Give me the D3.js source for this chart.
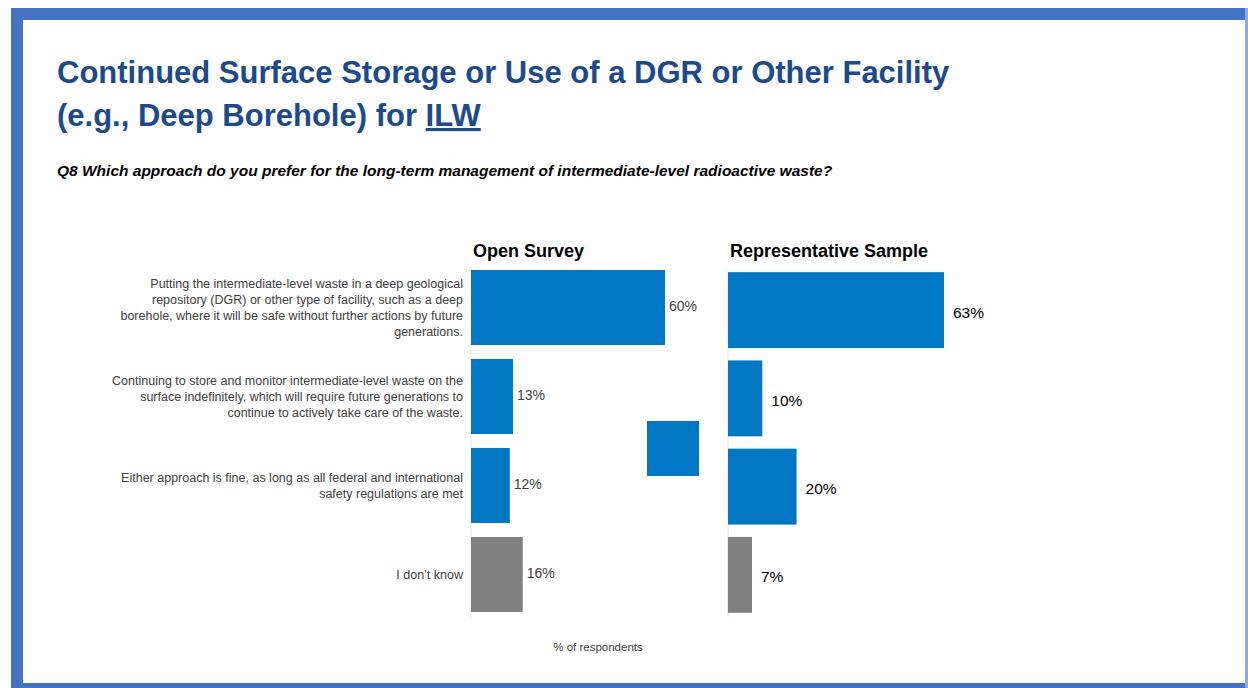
<!DOCTYPE html>
<html>
<head>
<meta charset="utf-8">
<script src="https://cdn.jsdelivr.net/npm/d3@7"></script>
<style>
  html, body { margin: 0; padding: 0; background: #fff; }
  svg { display: block; font-family: "Liberation Sans", Arial, sans-serif; }
</style>
</head>
<body>
<svg id="chart" width="1248" height="688"></svg>
<script>
// chart data
var categories = ["DGR", "Surface", "Either", "Don't know"];
var categoryLines = [
  ["Putting the intermediate-level waste in a deep geological",
   "repository (DGR) or other type of facility, such as a deep",
   "borehole, where it will be safe without further actions by future",
   "generations."],
  ["Continuing to store and monitor intermediate-level waste on the",
   "surface indefinitely, which will require future generations to",
   "continue to actively take care of the waste."],
  ["Either approach is fine, as long as all federal and international",
   "safety regulations are met"],
  ["I don\u2019t know"]
];
var openValues = [60, 13, 12, 16];
var repValues = [63, 10, 20, 7];
var panelTitles = ["Open Survey", "Representative Sample"];
var titleLines = ["Continued Surface Storage or Use of a DGR or Other Facility", "(e.g., Deep Borehole) for "];
var titleUnderlined = "ILW";
var question = "Q8 Which approach do you prefer for the long-term management of intermediate-level radioactive waste?";
var axisNote = "% of respondents";

var svg = d3.select("#chart");
var W = 1248, H = 688;

// frame
svg.append("rect").attr("x", 0).attr("y", 0).attr("width", W).attr("height", H).attr("fill", "#fff");
svg.append("rect").attr("x", 11).attr("y", 8).attr("width", W - 11).attr("height", 12).attr("fill", "#4472c4");
svg.append("rect").attr("x", 11).attr("y", 8).attr("width", 12).attr("height", H - 8).attr("fill", "#4472c4");
svg.append("rect").attr("x", 11).attr("y", 683).attr("width", W - 11).attr("height", 5).attr("fill", "#4472c4");
svg.append("rect").attr("x", 1245).attr("y", 8).attr("width", 3).attr("height", H - 8).attr("fill", "#8faadc");

// title
var title = svg.append("g").attr("fill", "#1d4a8c").style("font-weight", "bold").style("font-size", "31px");
title.append("text").attr("x", 57).attr("y", 83).text(titleLines[0]);
var t2 = title.append("text").attr("x", 57).attr("y", 126);
t2.append("tspan").text(titleLines[1]);
t2.append("tspan").attr("text-decoration", "underline").text(titleUnderlined);

svg.append("text")
  .attr("x", 57).attr("y", 176)
  .style("font-weight", "bold").style("font-style", "italic").style("font-size", "15.5px")
  .attr("fill", "#000")
  .text(question);

var color = d3.scaleOrdinal().domain(categories).range(["#0277c3", "#0277c3", "#0277c3", "#808080"]);

var xOpen = d3.scaleLinear().domain([0, 60]).range([471, 665]);
var xRep = d3.scaleLinear().domain([0, 63]).range([728, 944]);
var yOpen = d3.scaleBand().domain(categories).range([263, 619]).paddingInner(0.157).paddingOuter(0.0785);
var yRep = d3.scaleBand().domain(categories).range([266, 619]).paddingInner(0.14).paddingOuter(0.07);

// category labels
var labels = svg.append("g").attr("fill", "#404040").attr("text-anchor", "end").style("font-size", "12.5px");
labels.selectAll("text")
  .data(categories)
  .join("text")
  .attr("x", 463)
  .attr("y", function (d, i) {
    var n = categoryLines[i].length;
    return yOpen(d) + yOpen.bandwidth() / 2 + 4 - (n - 1) * 16 / 2;
  })
  .attr("dy", "0.35em")
  .each(function (d, i) {
    var sel = d3.select(this);
    categoryLines[i].forEach(function (line, j) {
      sel.append("tspan").attr("x", 463).attr("dy", j === 0 ? 0 : 16).text(line);
    });
  });

function panel(values, x, y, titleText, labelColor, labelSize, labelGap, labelShift) {
  var g = svg.append("g");
  g.append("line")
    .attr("x1", x(0)).attr("x2", x(0))
    .attr("y1", y.range()[0] + 4).attr("y2", y.range()[1] - 2)
    .attr("stroke", "#e6e6e6").attr("stroke-width", 1);
  g.append("text")
    .attr("x", x(0) + 2).attr("y", 257)
    .style("font-weight", "bold").style("font-size", "18px")
    .attr("fill", "#000")
    .text(titleText);
  g.append("g").selectAll("rect")
    .data(categories)
    .join("rect")
    .attr("x", x(0))
    .attr("y", function (d) { return y(d); })
    .attr("width", function (d, i) { return x(values[i]) - x(0); })
    .attr("height", y.bandwidth())
    .attr("fill", function (d) { return color(d); });
  g.append("g").attr("fill", labelColor).style("font-size", labelSize)
    .selectAll("text")
    .data(categories)
    .join("text")
    .attr("x", function (d, i) { return x(values[i]) + labelGap; })
    .attr("y", function (d) { return y(d) + y.bandwidth() / 2 + labelShift; })
    .attr("dy", "0.35em")
    .text(function (d, i) { return values[i] + "%"; });
}

panel(openValues, xOpen, yOpen, panelTitles[0], "#404040", "14px", 4, -1);
panel(repValues, xRep, yRep, panelTitles[1], "#000", "15.5px", 9, 2);

// stray blue swatch from the slide
svg.append("rect").attr("x", 647).attr("y", 421).attr("width", 52).attr("height", 55).attr("fill", "#0277c3");

svg.append("text")
  .attr("x", 598).attr("y", 651)
  .attr("text-anchor", "middle")
  .attr("fill", "#404040")
  .style("font-size", "11.5px")
  .text(axisNote);
</script>
</body>
</html>
